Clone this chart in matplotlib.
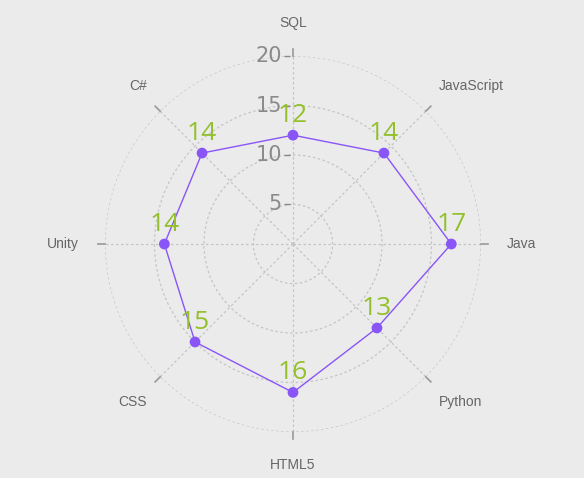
import numpy as np
import matplotlib
matplotlib.use("Agg")
import matplotlib.pyplot as plt
from matplotlib.transforms import offset_copy

# data (clockwise from the top)
categories = ["SQL", "JavaScript", "Java", "Python", "HTML5", "CSS", "Unity", "C#"]
values = [12, 14, 17, 13, 16, 15, 14, 14]
r_ticks = [5, 10, 15, 20]

bg = "#ebebeb"
purple = "#8a55f7"
green = "#93c02c"

fig = plt.figure(figsize=(5.84, 4.78), dpi=100, facecolor=bg)
ax = fig.add_axes([0.1798, 0.0962, 0.6438, 0.7866], projection="polar", facecolor=bg)
ax.set_theta_zero_location("N")
ax.set_theta_direction(-1)

angles = np.linspace(0, 2 * np.pi, len(categories), endpoint=False)
ax.set_ylim(1, 20)

# closed polygon
a_closed = np.append(angles, angles[0])
v_closed = np.append(values, values[0])
ax.plot(a_closed, v_closed, color=purple, lw=1, zorder=3)
ax.scatter(angles, values, s=60, color=purple, zorder=4, edgecolors="none")

# value labels
for a, v in zip(angles, values):
    ax.annotate(str(v), (a, v), xytext=(0, 5), textcoords="offset points",
                ha="center", va="bottom", color=green, fontsize=19,
                family="Open Sans", zorder=5)

# grid
ax.set_xticks(angles)
ax.set_xticklabels([])
ax.tick_params(axis="x", length=0)
ax.set_yticks(r_ticks)
ax.set_yticklabels([])
ax.tick_params(axis="y", length=0)
ax.grid(True, color="#c4c4c4", linestyle=(0, (2, 2)), linewidth=0.9)
ax.spines["polar"].set_visible(False)

rmax = r_ticks[-1]

# category names outside the ring, aligned away from the centre
for a, name in zip(angles, categories):
    s, c = np.sin(a), np.cos(a)
    ha = "left" if s > 0.01 else ("right" if s < -0.01 else "center")
    va = "bottom" if c > 0.01 else ("top" if c < -0.01 else "center")
    ax.annotate(name, (a, rmax), xytext=(26 * s * abs(s), 26 * c),
                textcoords="offset pixels", ha=ha, va=va, color="#666666",
                fontsize=10, family="Liberation Sans", annotation_clip=False)

# small tick marks outside the outer ring
for a in angles:
    ax.plot([a, a], [rmax, rmax + 0.7], color="#999999", lw=1.2, clip_on=False)

# radial labels along the top spoke, left side
tr = offset_copy(ax.transData, fig=fig, x=-4, y=0, units="points")
ax.plot(np.zeros(len(r_ticks)), r_ticks, linestyle="none", marker="_",
        markersize=4, color="#888888", transform=tr, clip_on=False)
for t in r_ticks:
    ax.annotate(str(t), (0, t), xytext=(-8, 0), textcoords="offset points",
                ha="right", va="center", color="#8a8a8a", fontsize=15,
                family="DejaVu Sans", annotation_clip=False)

fig.savefig("out.png", dpi=100, facecolor=bg)
